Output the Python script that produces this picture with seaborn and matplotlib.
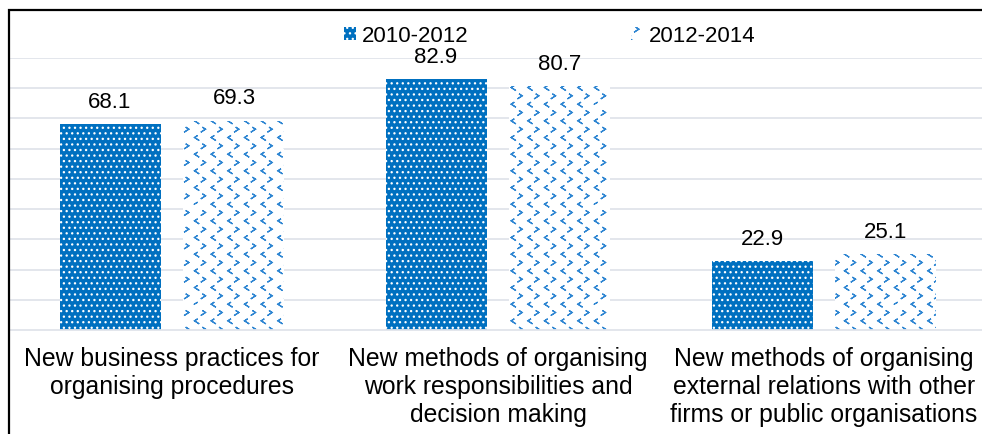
import numpy as np
import pandas as pd
import matplotlib
matplotlib.use("Agg")
import matplotlib.pyplot as plt
import matplotlib.hatch as mhatch
from matplotlib.path import Path
from matplotlib.lines import Line2D
import seaborn as sns

# ---- data -------------------------------------------------------------
categories = [
    "New business practices for\norganising procedures",
    "New methods of organising\nwork responsibilities and\ndecision making",
    "New methods of organising\nexternal relations with other\nfirms or public organisations",
]
periods = ["2010-2012", "2012-2014"]
values_2010_2012 = [68.1, 82.9, 22.9]
values_2012_2014 = [69.3, 80.7, 25.1]

BLUE = "#0070C0"
CHEVRON = "#2F86D2"
GRID = "#E1E4EA"


# ---- chevron fill pattern (rows of ">" alternating with rows of "<") ---
class ChevronHatch(mhatch.HatchPatternBase):
    """Staggered chevrons; drawn for the 'o' hatch character."""

    def __init__(self, hatch, density):
        self.num_cols = hatch.count("o") * density
        # each chevron is a zero-area polyline: p1 p2 p3 p2 p1
        self.num_vertices = self.num_cols * (2 * self.num_cols) * 5

    def set_vertices_and_codes(self, vertices, codes):
        n = self.num_cols
        dx = 1.0 / n
        dy = dx / 2.0
        a, b = 0.013, 0.017
        k = 0
        for r in range(2 * n):
            y = (r + 0.5) * dy
            s = 1.0 if r % 2 == 0 else -1.0
            xoff = 0.25 if r % 2 == 0 else 0.75
            for c in range(n):
                x = (c + xoff) * dx
                p1 = (x - s * a, y + b)
                p2 = (x + s * a, y)
                p3 = (x - s * a, y - b)
                vertices[k:k + 5] = [p1, p2, p3, p2, p1]
                codes[k:k + 5] = [Path.MOVETO, Path.LINETO, Path.LINETO,
                                  Path.LINETO, Path.LINETO]
                k += 5


mhatch._hatch_types = [ChevronHatch if t is mhatch.SmallCircles else t
                       for t in mhatch._hatch_types]

# ---- style --------------------------------------------------------------
sns.set_style("white")
plt.rcParams["font.family"] = ["Liberation Sans", "DejaVu Sans"]
plt.rcParams["hatch.linewidth"] = 0.9
plt.rcParams["text.color"] = "black"
plt.rcParams["xtick.labelcolor"] = "black"

df = pd.DataFrame({
    "category": categories * 2,
    "period": [periods[0]] * 3 + [periods[1]] * 3,
    "value": values_2010_2012 + values_2012_2014,
})

W, H = 982, 434
fig = plt.figure(figsize=(W / 100, H / 100), dpi=100)
ax = fig.add_axes([9 / W, (H - 330) / H, 978 / W, 272 / H])

sns.barplot(data=df, x="category", y="value", hue="period",
            hue_order=periods, palette=[BLUE, "white"], saturation=1,
            width=0.76, gap=0.185, legend=False, errorbar=None, ax=ax)

styles = [dict(hatch="...", edgecolor="white"),
          dict(hatch="o", edgecolor=CHEVRON)]
for cont, st in zip(ax.containers, styles):
    for bar in cont.patches:
        bar.set_hatch(st["hatch"])
        bar.set_edgecolor(st["edgecolor"])
        bar.set_linewidth(0)
    ax.bar_label(cont, fmt="%.1f", padding=8, fontsize=16, color="black")

# ---- axes -------------------------------------------------------------
ax.set_xlim(-0.5, 2.5)
ax.set_ylim(0, 90)
ax.set_yticks(np.arange(10, 91, 10))
ax.yaxis.grid(True, color=GRID, linewidth=1.3)
ax.set_axisbelow(True)
ax.tick_params(axis="y", length=0, labelleft=False)
ax.set_xlabel("")
ax.set_ylabel("")
ax.set_xticks(range(len(categories)))
ax.set_xticklabels(categories, fontsize=17.8, linespacing=1.2, color="black")
ax.tick_params(axis="x", which="major", length=0, pad=12.5)
ax.set_xticks([0.5, 1.5], minor=True)
ax.tick_params(axis="x", which="minor", length=6, width=1.2, color=GRID)
for side in ["top", "right", "left"]:
    ax.spines[side].set_visible(False)
ax.spines["bottom"].set_color(GRID)
ax.spines["bottom"].set_linewidth(1.3)

# ---- chart frame --------------------------------------------------------
fig.add_artist(Line2D([9 / W, 9 / W, 1.0], [0.0, 1 - 10 / H, 1 - 10 / H],
                      transform=fig.transFigure, color="black", linewidth=1.6,
                      solid_joinstyle="miter"))

# ---- legend -------------------------------------------------------------
leg = fig.legend(ax.containers, periods, loc="center",
                 bbox_to_anchor=(550 / W, 1 - 36 / H), ncol=2, frameon=False,
                 fontsize=16, handlelength=0.5, handleheight=0.5,
                 handletextpad=0.3, columnspacing=7.3, borderpad=0)
for t in leg.get_texts():
    t.set_color("black")

fig.savefig("out.png", dpi=100)
